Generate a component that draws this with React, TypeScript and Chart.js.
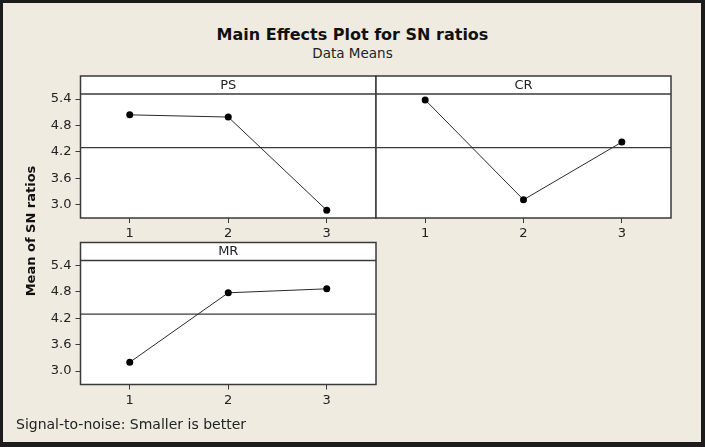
import React, { useEffect, useRef } from "react";
import { Chart, registerables } from "chart.js";

Chart.register(...registerables);

// ---- data ----
const levels = [1, 2, 3];
const xTickLabels = ["1", "2", "3"];
const yTicks = [3.0, 3.6, 4.2, 4.8, 5.4];
const factorNames = ["PS", "CR", "MR"];
const psMeans = [5.04, 4.99, 2.87];
const crMeans = [5.38, 3.11, 4.42];
const mrMeans = [3.2, 4.78, 4.87];

const allMeans = [...psMeans, ...crMeans, ...mrMeans];
const grandMean = allMeans.reduce((a, b) => a + b, 0) / allMeans.length;

const X_MIN = 0.5;
const X_MAX = 3.5;
const Y_MIN = 2.695;
const Y_MAX = 5.514;

const FONT = "'DejaVu Sans', Verdana, sans-serif";
const TEXT = "#222";
const FRAME = "#3a3a3a";
const W = 705;
const H = 447;

const panelPlugin = {
  id: "panelFrame",
  beforeDraw(chart: any, _args: any, opts: any) {
    const { ctx, chartArea: a } = chart;
    const sh = opts.stripHeight;
    ctx.save();
    ctx.fillStyle = "#ffffff";
    ctx.fillRect(a.left, a.top - sh, a.right - a.left, a.bottom - a.top + sh);
    ctx.restore();
  },
  afterDraw(chart: any, _args: any, opts: any) {
    const { ctx, chartArea: a } = chart;
    const sh = opts.stripHeight;
    ctx.save();
    ctx.strokeStyle = FRAME;
    ctx.lineWidth = 1.5;
    ctx.strokeRect(a.left, a.top - sh, a.right - a.left, a.bottom - a.top + sh);
    ctx.beginPath();
    ctx.moveTo(a.left, a.top);
    ctx.lineTo(a.right, a.top);
    ctx.stroke();
    ctx.fillStyle = TEXT;
    ctx.font = `13px ${FONT}`;
    ctx.textAlign = "center";
    ctx.textBaseline = "middle";
    ctx.fillText(opts.title, (a.left + a.right) / 2, a.top - sh / 2 + 0.5);
    ctx.restore();
  },
};

function makeConfig(values: number[], title: string, showY: boolean, padding: any): any {
  return {
    type: "line",
    data: {
      datasets: [
        {
          data: values.map((v, i) => ({ x: levels[i], y: v })),
          borderColor: "#2a2a2a",
          borderWidth: 1,
          pointRadius: 3.5,
          pointBackgroundColor: "#000",
          pointBorderColor: "#000",
          pointBorderWidth: 0,
          tension: 0,
          order: 0,
        },
        {
          data: [
            { x: X_MIN, y: grandMean },
            { x: X_MAX, y: grandMean },
          ],
          borderColor: "#3a3a3a",
          borderWidth: 1.2,
          pointRadius: 0,
          tension: 0,
          order: 1,
        },
      ],
    },
    options: {
      responsive: false,
      animation: false,
      devicePixelRatio: 1,
      layout: { padding },
      plugins: {
        legend: { display: false },
        tooltip: { enabled: false },
        panelFrame: { title, stripHeight: 18 },
      },
      scales: {
        x: {
          type: "linear",
          min: X_MIN,
          max: X_MAX,
          afterBuildTicks: (s: any) => {
            s.ticks = levels.map((v) => ({ value: v }));
          },
          ticks: {
            callback: (v: any) => xTickLabels[levels.indexOf(v)] ?? "",
            font: { family: FONT, size: 13 },
            color: TEXT,
            padding: 3,
            maxRotation: 0,
          },
          grid: { drawOnChartArea: false, drawTicks: true, tickLength: 5, color: FRAME, lineWidth: 1 },
          border: { display: false },
          afterFit: (s: any) => {
            s.height = 30;
          },
        },
        y: {
          display: showY,
          min: Y_MIN,
          max: Y_MAX,
          afterBuildTicks: (s: any) => {
            s.ticks = yTicks.map((v) => ({ value: v }));
          },
          ticks: {
            callback: (v: any) => Number(v).toFixed(1),
            font: { family: FONT, size: 13 },
            color: TEXT,
            padding: 4,
          },
          grid: { drawOnChartArea: false, drawTicks: true, tickLength: 5, color: FRAME, lineWidth: 1 },
          border: { display: false },
          afterFit: (s: any) => {
            s.width = showY ? 80.5 : 0;
          },
        },
      },
    },
    plugins: [panelPlugin],
  };
}

function Panel({ values, title, showY, padding }: any) {
  const ref = useRef<HTMLCanvasElement>(null);
  useEffect(() => {
    const chart = new Chart(ref.current as HTMLCanvasElement, makeConfig(values, title, showY, padding));
    return () => chart.destroy();
  }, []);
  return (
    <canvas
      ref={ref}
      width={W}
      height={H}
      style={{ position: "absolute", left: 0, top: 0, width: W, height: H }}
    />
  );
}

export default function App() {
  return (
    <div
      style={{
        position: "fixed",
        left: 0,
        top: 0,
        width: W,
        height: H,
        background: "#efebe1",
        fontFamily: FONT,
        overflow: "hidden",
      }}
    >
      <div
        style={{
          position: "absolute",
          left: 0,
          top: 26,
          width: W,
          textAlign: "center",
          fontSize: 16,
          lineHeight: "17px",
          fontWeight: "bold",
          color: "#111",
        }}
      >
        Main Effects Plot for SN ratios
      </div>
      <div
        style={{
          position: "absolute",
          left: 0,
          top: 47,
          width: W,
          textAlign: "center",
          fontSize: 13.5,
          lineHeight: "13.5px",
          color: TEXT,
        }}
      >
        Data Means
      </div>
      <Panel values={psMeans} title={factorNames[0]} showY={true} padding={{ left: 0, top: 94, right: W - 376, bottom: H - 218 - 30 }} />
      <Panel values={crMeans} title={factorNames[1]} showY={false} padding={{ left: 376, top: 94, right: W - 671, bottom: H - 218 - 30 }} />
      <Panel values={mrMeans} title={factorNames[2]} showY={true} padding={{ left: 0, top: 260.5, right: W - 376, bottom: H - 384.5 - 30 }} />
      <div
        style={{
          position: "absolute",
          left: 31 - 100,
          top: 231 - 8,
          width: 200,
          height: 16,
          lineHeight: "16px",
          textAlign: "center",
          fontSize: 13,
          fontWeight: "bold",
          color: "#111",
          transform: "rotate(-90deg)",
          transformOrigin: "100px 8px",
        }}
      >
        Mean of SN ratios
      </div>
      <div
        style={{
          position: "absolute",
          left: 16,
          top: 416,
          fontSize: 14,
          lineHeight: "16px",
          color: TEXT,
          whiteSpace: "nowrap",
        }}
      >
        Signal-to-noise: Smaller is better
      </div>
      <div
        style={{
          position: "absolute",
          left: 0,
          top: 0,
          width: W,
          height: H,
          boxSizing: "border-box",
          borderStyle: "solid",
          borderColor: "#1c1c1c",
          borderWidth: "3px 4px 5px 3px",
          pointerEvents: "none",
        }}
      />
    </div>
  );
}
